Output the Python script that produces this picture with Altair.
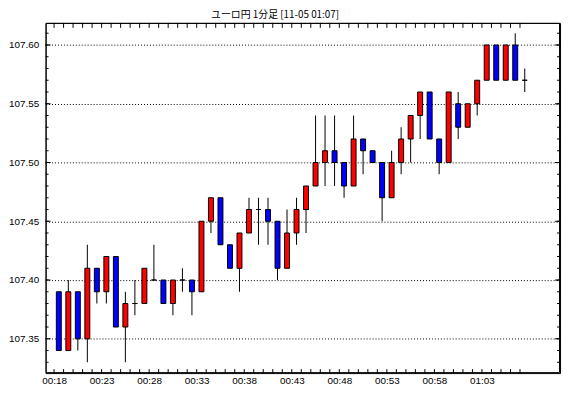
import altair as alt
import pandas as pd

# ---- data (1-minute EUR/JPY candles, 00:18 .. 01:07) ----
open_ = [107.39, 107.34, 107.39, 107.35, 107.41, 107.39, 107.42, 107.36, 107.38, 107.38,
         107.40, 107.40, 107.38, 107.40, 107.40, 107.39, 107.45, 107.47, 107.43, 107.41,
         107.44, 107.46, 107.46, 107.45, 107.41, 107.44, 107.46, 107.48, 107.50, 107.51,
         107.50, 107.48, 107.52, 107.51, 107.50, 107.47, 107.50, 107.52, 107.54, 107.56,
         107.52, 107.50, 107.55, 107.53, 107.55, 107.57, 107.60, 107.57, 107.60, 107.57]
close = [107.34, 107.39, 107.35, 107.41, 107.39, 107.42, 107.36, 107.38, 107.38, 107.41,
         107.40, 107.38, 107.40, 107.40, 107.39, 107.45, 107.47, 107.43, 107.41, 107.44,
         107.46, 107.46, 107.45, 107.41, 107.44, 107.46, 107.48, 107.50, 107.51, 107.50,
         107.48, 107.52, 107.51, 107.50, 107.47, 107.50, 107.52, 107.54, 107.56, 107.52,
         107.50, 107.56, 107.53, 107.55, 107.57, 107.60, 107.57, 107.60, 107.57, 107.57]
high = [107.39, 107.40, 107.39, 107.43, 107.41, 107.42, 107.42, 107.39, 107.40, 107.41,
        107.43, 107.40, 107.40, 107.41, 107.40, 107.45, 107.47, 107.47, 107.43, 107.44,
        107.47, 107.47, 107.47, 107.45, 107.46, 107.47, 107.48, 107.54, 107.54, 107.54,
        107.50, 107.54, 107.52, 107.51, 107.50, 107.51, 107.53, 107.54, 107.56, 107.56,
        107.52, 107.56, 107.56, 107.55, 107.57, 107.60, 107.60, 107.60, 107.61, 107.58]
low = [107.34, 107.34, 107.34, 107.33, 107.38, 107.38, 107.36, 107.33, 107.37, 107.38,
       107.40, 107.38, 107.37, 107.39, 107.37, 107.39, 107.44, 107.43, 107.41, 107.39,
       107.44, 107.43, 107.43, 107.40, 107.41, 107.43, 107.44, 107.48, 107.48, 107.48,
       107.47, 107.48, 107.49, 107.50, 107.45, 107.47, 107.49, 107.50, 107.52, 107.52,
       107.49, 107.50, 107.52, 107.53, 107.54, 107.57, 107.57, 107.57, 107.57, 107.56]

x_labels = ["00:18", "00:23", "00:28", "00:33", "00:38", "00:43", "00:48", "00:53", "00:58", "01:03"]
y_labels = [107.35, 107.40, 107.45, 107.50, 107.55, 107.60]
title_text = "ユーロ円 1分足 [11-05 01:07]"

W, H = 520, 354
xdom = [-0.37, 52.69]
ydom = [107.3208, 107.6188]

n = len(open_)
candles = pd.DataFrame({
    "t": [i + 0.5 for i in range(n)],
    "open": open_, "close": close, "high": high, "low": low,
})
candles["dir"] = ["up" if c > o else ("down" if c < o else "flat") for o, c in zip(open_, close)]

xs = alt.Scale(domain=xdom, nice=False, zero=False)
ys = alt.Scale(domain=ydom, nice=False, zero=False)

label_positions = [5 * k for k in range(len(x_labels))]
label_expr = "[" + ",".join("'%s'" % s for s in x_labels) + "][round(datum.value / 5)]"

font = "Liberation Sans"

x_axis = alt.Axis(values=label_positions, labelExpr=label_expr, ticks=False, domain=False,
                  grid=False, title=None, labelPadding=3, labelFont=font, labelFontSize=10,
                  labelColor="black")
y_axis = alt.Axis(values=y_labels, format=".2f", ticks=False, domain=False, grid=True,
                  gridDash=[1, 2], gridColor="black", gridOpacity=1, title=None,
                  labelPadding=7, labelFont=font, labelFontSize=10, labelColor="black")

wicks = alt.Chart(candles).mark_rule(color="black", strokeWidth=1).encode(
    x=alt.X("t:Q", scale=xs, axis=x_axis),
    y=alt.Y("low:Q", scale=ys, axis=y_axis),
    y2="high:Q",
)

bodies = alt.Chart(candles).mark_bar(size=5, stroke="black", strokeWidth=1).encode(
    x=alt.X("t:Q", scale=xs, title=None),
    y=alt.Y("open:Q", scale=ys, title=None),
    y2="close:Q",
    fill=alt.Color("dir:N", scale=alt.Scale(domain=["up", "down", "flat"],
                                            range=["#ff0000", "#0000ff", "#000000"]),
                   legend=None),
)

# frame ticks (inward)
xt = pd.DataFrame({"t": list(range(n))})
yt_minor = pd.DataFrame({"low": [round(107.33 + 0.01 * k, 2) for k in range(29)]})
yt_major = pd.DataFrame({"low": y_labels})

top_ticks = alt.Chart(xt).mark_rule(color="black").encode(
    x=alt.X("t:Q", scale=xs, title=None), y=alt.value(0), y2=alt.value(5))
bot_ticks = alt.Chart(xt).mark_rule(color="black").encode(
    x=alt.X("t:Q", scale=xs, title=None), y=alt.value(H), y2=alt.value(H - 4))
left_minor = alt.Chart(yt_minor).mark_rule(color="black").encode(
    y=alt.Y("low:Q", scale=ys, title=None), x=alt.value(0), x2=alt.value(3))
right_minor = alt.Chart(yt_minor).mark_rule(color="black").encode(
    y=alt.Y("low:Q", scale=ys, title=None), x=alt.value(W), x2=alt.value(W - 3))
left_major = alt.Chart(yt_major).mark_rule(color="black").encode(
    y=alt.Y("low:Q", scale=ys, title=None), x=alt.value(0), x2=alt.value(5))
right_major = alt.Chart(yt_major).mark_rule(color="black").encode(
    y=alt.Y("low:Q", scale=ys, title=None), x=alt.value(W), x2=alt.value(W - 5))

frame = alt.Chart(pd.DataFrame({"k": [0]})).mark_rect(
    fillOpacity=0, stroke="black", strokeWidth=1
).encode(x=alt.value(0.5), x2=alt.value(W - 0.5), y=alt.value(0.5), y2=alt.value(H - 0.5))

chart = alt.layer(
    wicks, bodies, top_ticks, bot_ticks, left_minor, right_minor, left_major, right_major, frame
).properties(
    width=W, height=H,
    background="white",
    title=alt.TitleParams(title_text, font="Noto Sans CJK JP", fontSize=10, fontWeight="normal",
                          color="black", anchor="middle", dx=-28, offset=2),
    autosize=alt.AutoSizeParams(type="none"),
    padding={"left": 38, "top": 13, "right": 2, "bottom": 11},
).configure_view(stroke="black", strokeWidth=1, strokeOpacity=1)

chart.save("out.html", embed_options={"renderer": "svg", "actions": False})
